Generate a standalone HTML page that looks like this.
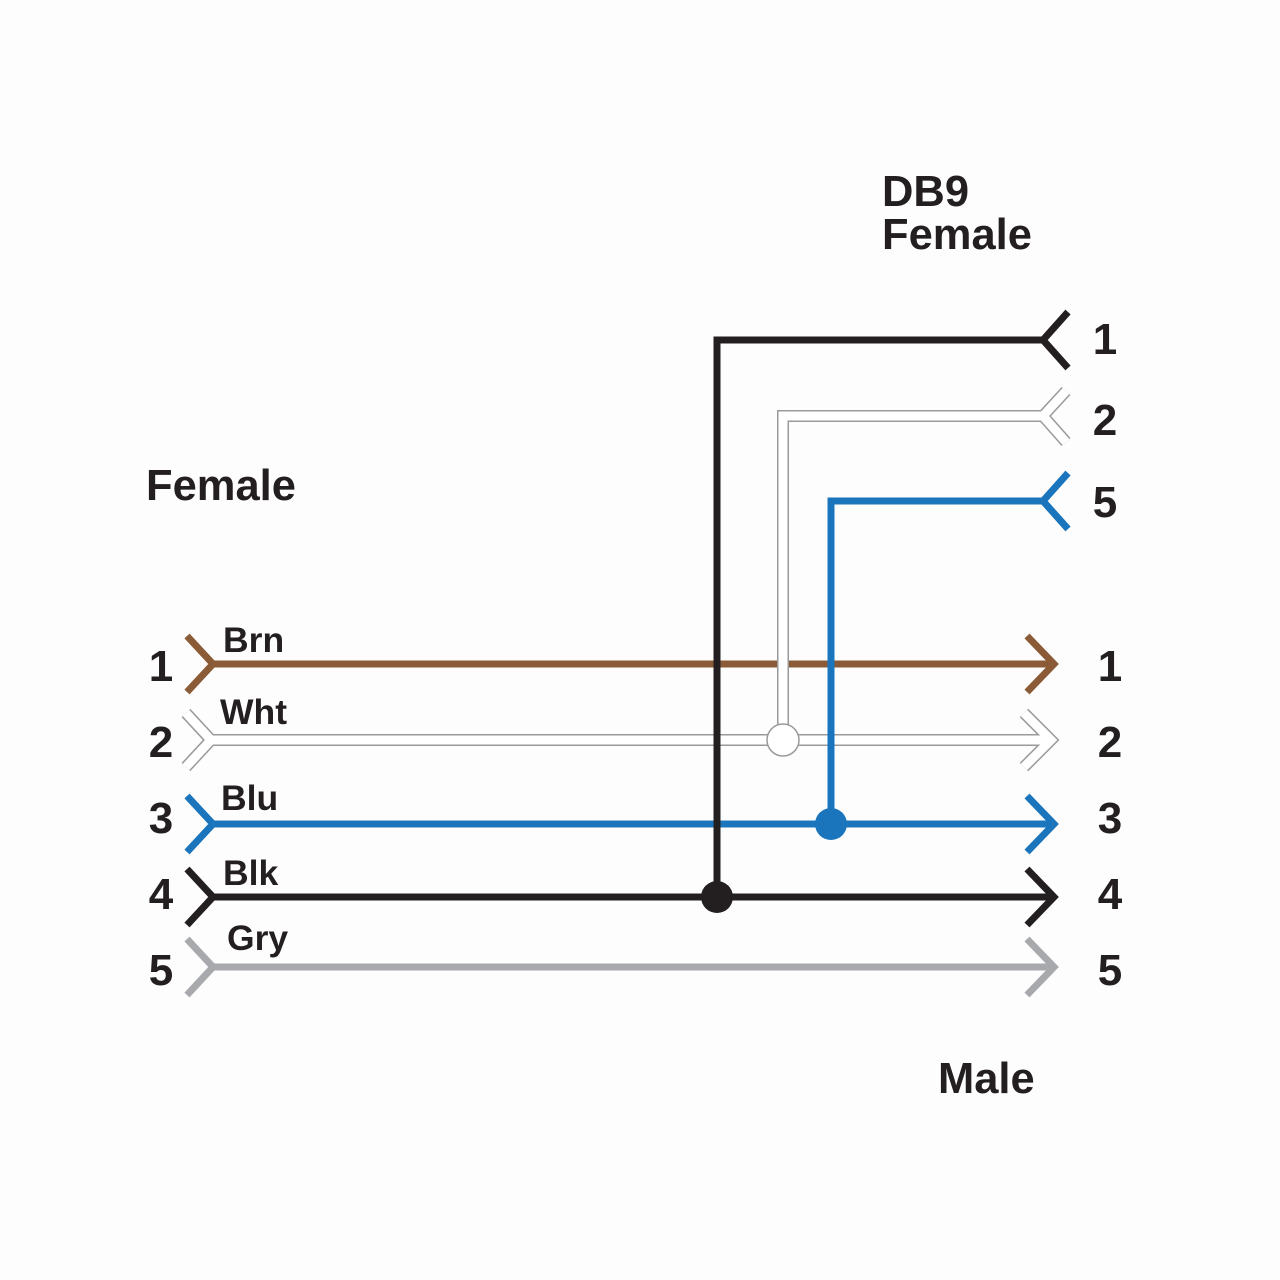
<!DOCTYPE html>
<html><head><style>body{margin:0;background:#fdfdfd}svg{display:block}text{font-family:"Liberation Sans",sans-serif;font-weight:bold;fill:#231f20}</style></head>
<body>
<svg width="1280" height="1280" viewBox="0 0 1280 1280">
<rect width="1280" height="1280" fill="#fdfdfd"/>
<g fill="none" stroke-linecap="butt" stroke-linejoin="miter">
<path d="M187,636 L213,664 L187,692 M213,664 H1052 M1027,636 L1054,664 L1027,692" stroke="#8b5a36" stroke-width="7"/>
<g stroke="#9a9a9c" stroke-width="12">
<path d="M186,713 L211,740 L186,767 M211,740 H1052 M1024,713 L1051,740 L1024,767"/>
<path d="M783,730 V416 H1043 M1066,391 L1043,416 L1066,442"/>
</g>
<g stroke="#fff" stroke-width="9">
<path d="M186,713 L211,740 L186,767 M211,740 H1052 M1024,713 L1051,740 L1024,767"/>
<path d="M783,730 V416 H1043 M1066,391 L1043,416 L1066,442"/>
</g>
<circle cx="783" cy="740" r="16" fill="#fff" stroke="#9a9a9c" stroke-width="1.5"/>
<path d="M187,796 L213,824 L187,852 M213,824 H1052 M1027,796 L1054,824 L1027,852" stroke="#1b75bc" stroke-width="7"/>
<path d="M831,824 V501 H1043 M1068,473 L1043,501 L1068,529" stroke="#1b75bc" stroke-width="7"/>
<path d="M187,869 L213,897 L187,925 M213,897 H1052 M1027,869 L1054,897 L1027,925" stroke="#231f20" stroke-width="7"/>
<path d="M717,897 V340 H1043 M1068,312 L1043,340 L1068,368" stroke="#231f20" stroke-width="7"/>
<path d="M187,939 L213,967 L187,995 M213,967 H1052 M1027,939 L1054,967 L1027,995" stroke="#a7a9ac" stroke-width="7"/>
</g>
<circle cx="831" cy="824" r="16" fill="#1b75bc"/>
<circle cx="717" cy="897" r="16" fill="#231f20"/>
<g font-size="43.5">
<text x="882" y="206">DB9</text>
<text x="882" y="249">Female</text>
<text x="146" y="500">Female</text>
<text x="938" y="1093">Male</text>
</g>
<g font-size="44" text-anchor="middle">
<text x="161" y="681">1</text><text x="161" y="757">2</text><text x="161" y="833">3</text><text x="161" y="909">4</text><text x="161" y="985">5</text>
<text x="1110" y="681">1</text><text x="1110" y="757">2</text><text x="1110" y="833">3</text><text x="1110" y="909">4</text><text x="1110" y="985">5</text>
<text x="1105" y="354">1</text><text x="1105" y="435">2</text><text x="1105" y="517">5</text>
</g>
<g font-size="35.5">
<text x="223" y="652">Brn</text>
<text x="220" y="724">Wht</text>
<text x="221" y="810">Blu</text>
<text x="223" y="885">Blk</text>
<text x="227" y="950">Gry</text>
</g>
</svg>
</body></html>
